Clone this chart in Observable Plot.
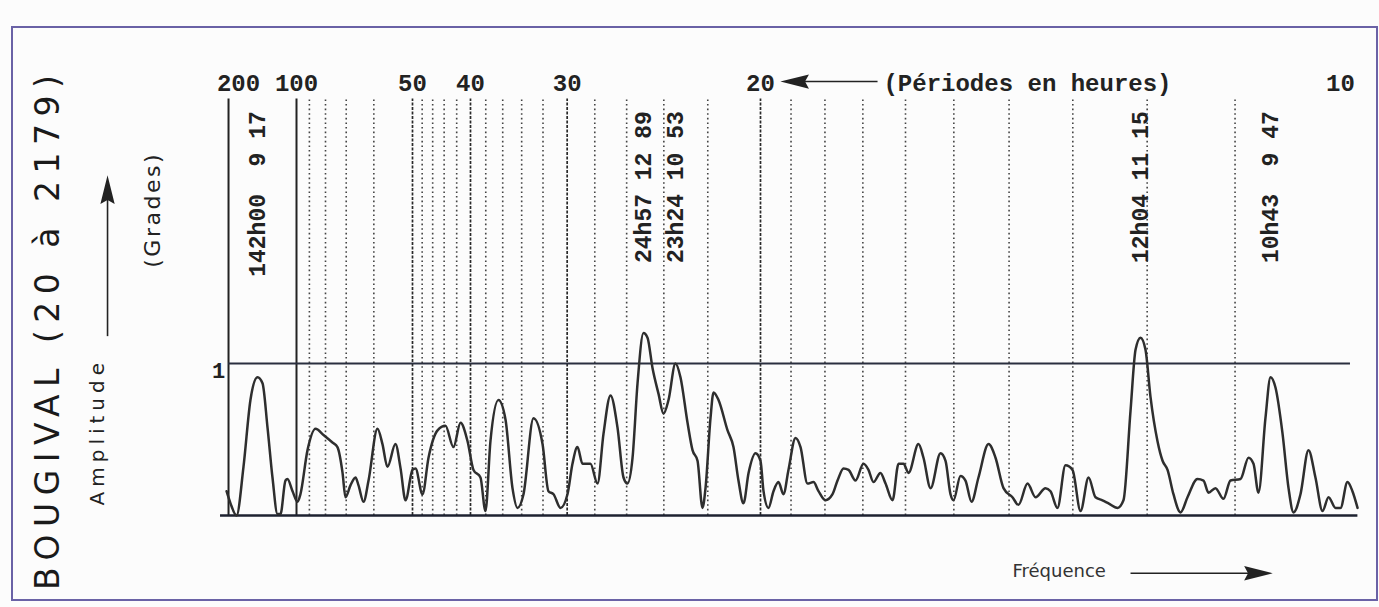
<!DOCTYPE html>
<html>
<head>
<meta charset="utf-8">
<script src="https://cdn.jsdelivr.net/npm/d3@7"></script>
<script src="https://cdn.jsdelivr.net/npm/@observablehq/plot@0.6"></script>
<style>
  html, body { margin: 0; padding: 0; background: #fcfcfc; }
  #wrap { position: relative; width: 1379px; height: 607px; overflow: hidden; }
  #wrap svg { position: absolute; left: 0; top: 0; }
  #frame { position: absolute; left: 11px; top: 26px; width: 1367px; height: 575px;
           border: 2px solid #6a62a6; box-sizing: border-box; pointer-events: none; }
</style>
</head>
<body>
<div id="wrap"><div id="frame"></div></div>
<script>
// Frequency in cycles per 1000 hours (x), amplitude in grades (y)
const freq = [3.97,4.31,4.83,5.43,6.03,6.64,7.07,7.50,7.93,8.36,
  8.62,9.05,9.22,9.66,10.09,10.34,10.95,11.64,12.33,13.10,
  13.53,13.97,14.22,14.66,15.09,15.34,15.78,16.21,16.98,17.41,
  17.84,18.53,18.97,19.40,20.00,20.26,20.86,21.38,22.16,22.84,
  23.53,24.14,24.74,25.26,25.86,26.29,26.72,27.41,28.02,28.62,
  29.05,29.57,30.43,31.21,31.72,32.16,32.76,33.36,33.79,34.22,
  34.66,35.34,35.95,36.47,37.07,37.67,38.19,38.53,38.97,39.40,
  39.91,40.26,40.69,41.21,41.64,42.07,42.67,43.10,43.71,44.14,
  44.57,45.00,45.26,45.69,45.95,46.38,47.16,47.67,48.10,48.53,
  48.97,49.57,50.00,50.26,50.69,51.12,51.55,51.98,52.41,53.02,
  53.45,54.05,54.57,55.00,55.60,56.21,56.64,57.16,57.59,58.19,
  58.88,59.31,59.74,60.34,60.78,61.38,61.90,62.33,62.76,63.62,
  64.05,64.66,65.52,65.95,66.38,66.64,67.24,67.67,68.19,68.79,
  69.66,70.26,70.95,71.72,72.24,73.02,73.71,74.57,75.00,75.60,
  76.29,76.90,77.59,78.28,78.88,79.48,80.00,80.78,81.29,81.90,
  82.33,82.76,83.19,83.62,84.22,84.66,85.09,85.60,86.21,86.81,
  87.67,88.19,88.62,89.22,89.91,90.52,91.38,92.07,92.50,92.93,
  93.53,93.97,94.40,95.00,95.52,95.95,96.55,97.24,97.84,98.45,
  98.97,99.57,100.00,100.60,101.03,101.47];

const amp = [0.16,0.08,0,0.32,0.76,0.91,0.87,0.58,0.25,0.01,
  0.01,0.23,0.24,0.16,0.09,0.14,0.43,0.57,0.53,0.48,
  0.45,0.28,0.12,0.20,0.25,0.20,0.09,0.23,0.57,0.47,
  0.32,0.47,0.31,0.10,0.30,0.31,0.14,0.38,0.56,0.59,
  0.45,0.61,0.49,0.30,0.25,0.03,0.49,0.76,0.63,0.18,
  0.05,0.14,0.64,0.47,0.16,0.14,0.05,0.14,0.34,0.45,
  0.34,0.34,0.21,0.54,0.79,0.58,0.25,0.21,0.38,0.87,
  1.20,1.17,0.97,0.80,0.67,0.76,1.00,0.91,0.61,0.43,
  0.36,0.05,0.18,0.64,0.81,0.76,0.56,0.45,0.23,0.08,
  0.28,0.41,0.36,0.16,0.05,0.16,0.22,0.14,0.30,0.51,
  0.45,0.21,0.22,0.16,0.10,0.14,0.23,0.31,0.30,0.23,
  0.34,0.30,0.22,0.28,0.21,0.10,0.34,0.34,0.28,0.47,
  0.38,0.18,0.41,0.36,0.14,0.10,0.26,0.23,0.09,0.25,
  0.47,0.38,0.18,0.12,0.07,0.21,0.12,0.18,0.16,0.05,
  0.33,0.30,0.03,0.25,0.12,0.10,0.08,0.05,0.10,0.69,
  1.09,1.17,1.09,0.78,0.49,0.36,0.30,0.14,0.02,0.12,
  0.24,0.23,0.15,0.18,0.11,0.23,0.24,0.38,0.34,0.15,
  0.64,0.91,0.84,0.54,0.18,0.02,0.14,0.43,0.25,0.03,
  0.12,0.05,0.05,0.22,0.16,0.05];

// Period grid (hours)
const tickPeriods = [200, 100, 50, 40, 30, 20, 10];
const solidPeriods = [100];
const strongPeriods = [50, 40, 30, 20];
const dottedPeriods = [90, 80, 70, 60, 48, 46, 44, 42, 38, 36, 34, 32, 28, 26, 24, 22,
                       19, 18, 17, 16, 15, 14, 13, 12, 11];

// Annotated peaks
const peakHours = [142.0, 24.95, 23.4, 12.067, 10.717];
const peakTimes = ["142h00", "24h57", "23h24", "12h04", "10h43"];
const peakAmps  = ["9 17", "12 89", "10 53", "11 15", "9 47"];

const toF = p => 1000 / p;
const series = freq.map((f, i) => ({f, a: amp[i]}));

// place each peak label at the local maximum of the curve near its period
const peaks = peakHours.map((h, i) => {
  const f0 = toF(h);
  const near = series.filter(d => Math.abs(d.f - f0) <= 1.5);
  const best = near.reduce((m, d) => d.a > m.a ? d : m, near[0]);
  return {f: best.f, label: peakTimes[i] + " " + peakAmps[i].padStart(5, " ")};
});

const axisF = 4.14;               // left vertical axis (under "200")
const gridTop = 2.74;
const mono = "'Liberation Mono', 'DejaVu Sans Mono', monospace";
const sans = "'DejaVu Sans', Verdana, sans-serif";
const ink = "#222";

// filled, elongated arrow head; scales with the dot radius
const arrowHead = {
  draw(ctx, size) {
    const s = Math.sqrt(size / Math.PI) / 10;
    ctx.moveTo(0, -14 * s);
    ctx.lineTo(5.5 * s, 8 * s);
    ctx.lineTo(0, 5 * s);
    ctx.lineTo(-5.5 * s, 8 * s);
    ctx.closePath();
  }
};

const chart = Plot.plot({
  width: 1379,
  height: 607,
  marginLeft: 180,
  marginRight: 10,
  marginTop: 28.6,
  marginBottom: 16,
  x: {domain: [0, 102.5], axis: null},
  y: {domain: [-0.5, 3.2], axis: null},
  style: {background: "transparent", overflow: "visible"},
  marks: [
    // period grid
    Plot.ruleX(dottedPeriods, {x: toF, y1: 0, y2: gridTop, stroke: "#444",
      strokeWidth: 1.6, strokeDasharray: "1.6,3"}),
    Plot.ruleX(strongPeriods, {x: toF, y1: 0, y2: gridTop, stroke: "#2a2a2a",
      strokeWidth: 1.7, strokeDasharray: "3,1.5"}),
    Plot.ruleX(solidPeriods, {x: toF, y1: 0, y2: gridTop, stroke: ink, strokeWidth: 2}),
    Plot.ruleX([axisF], {x: d => d, y1: 0, y2: gridTop, stroke: ink, strokeWidth: 2}),
    // baseline and unit line
    Plot.ruleY([0], {x1: 3.45, x2: 101.5, stroke: "#1e2230", strokeWidth: 2.6}),
    Plot.ruleY([1], {x1: axisF, x2: 100.86, stroke: "#2a2f3f", strokeWidth: 2}),
    // spectrum
    Plot.line(series, {x: "f", y: "a", stroke: "#2e2e2e", strokeWidth: 2.5, curve: "monotone-x"}),
    // period tick labels
    Plot.text(tickPeriods, {x: toF, y: 2.79, text: d => String(d), lineAnchor: "bottom",
      fontFamily: mono, fontSize: 24, fontWeight: "bold", fill: ink}),
    Plot.text(["(Périodes en heures)"], {x: 60.6, y: 2.79, text: d => d, textAnchor: "start",
      lineAnchor: "bottom", fontFamily: mono, fontSize: 24, fontWeight: "bold", fill: ink}),
    Plot.link([{x1: 60.09, x2: 53.5, y: 2.855}], {x1: "x1", x2: "x2", y1: "y", y2: "y",
      stroke: ink, strokeWidth: 1.6}),
    Plot.dot([{x: 53.28, y: 2.855}], {x: "x", y: "y", symbol: arrowHead, r: 13, rotate: -90,
      fill: ink, stroke: "none"}),
    // peak labels
    Plot.text(peaks, {x: "f", y: 2.66, text: "label", rotate: -90, textAnchor: "end",
      lineAnchor: "middle", fontFamily: mono, fontSize: 23, fontWeight: "bold", fill: ink}),
    // y labels
    Plot.text(["1"], {x: 3.28, y: 0.954, text: d => d, lineAnchor: "middle",
      fontFamily: mono, fontSize: 22, fontWeight: "bold", fill: ink}),
    Plot.text(["BOUGIVAL (20 à 2179)"], {x: -11.38, y: -0.49, text: d => d, rotate: -90,
      textAnchor: "start", lineAnchor: "middle", fontFamily: sans, fontSize: 33, fill: "#1a1a1a"}),
    Plot.text(["Amplitude"], {x: -7.16, y: 0.066, text: d => d, rotate: -90,
      textAnchor: "start", lineAnchor: "middle", fontFamily: sans, fontSize: 20, fill: ink}),
    Plot.link([{x: -6.29, y1: 1.18, y2: 2.08}], {x1: "x", x2: "x", y1: "y1", y2: "y2",
      stroke: ink, strokeWidth: 1.6}),
    Plot.dot([{x: -6.29, y: 2.118}], {x: "x", y: "y", symbol: arrowHead, r: 13,
      fill: ink, stroke: "none"}),
    Plot.text(["(Grades)"], {x: -2.41, y: 1.63, text: d => d, rotate: -90,
      textAnchor: "start", lineAnchor: "middle", fontFamily: sans, fontSize: 22, fill: ink}),
    // frequency arrow
    Plot.text(["Fréquence"], {x: 71.72, y: -0.368, text: d => d, textAnchor: "start",
      lineAnchor: "middle", fontFamily: sans, fontSize: 18, fill: "#333"}),
    Plot.link([{x1: 81.9, x2: 92.4, y: -0.38}], {x1: "x1", x2: "x2", y1: "y", y2: "y",
      stroke: ink, strokeWidth: 1.6}),
    Plot.dot([{x: 92.59, y: -0.38}], {x: "x", y: "y", symbol: arrowHead, r: 13, rotate: 90,
      fill: ink, stroke: "none"})
  ]
});

d3.select(chart).selectAll("text").each(function () {
  const t = this.textContent;
  if (t.startsWith("BOUGIVAL")) this.style.letterSpacing = "7.5px";
  else if (t === "Amplitude") this.style.letterSpacing = "5px";
  else if (t === "(Grades)") this.style.letterSpacing = "2.5px";
  this.style.whiteSpace = "pre";
});
d3.select(chart).selectAll("text").attr("xml:space", "preserve");

const wrap = document.getElementById("wrap");
wrap.insertBefore(chart, document.getElementById("frame"));
</script>
</body>
</html>
